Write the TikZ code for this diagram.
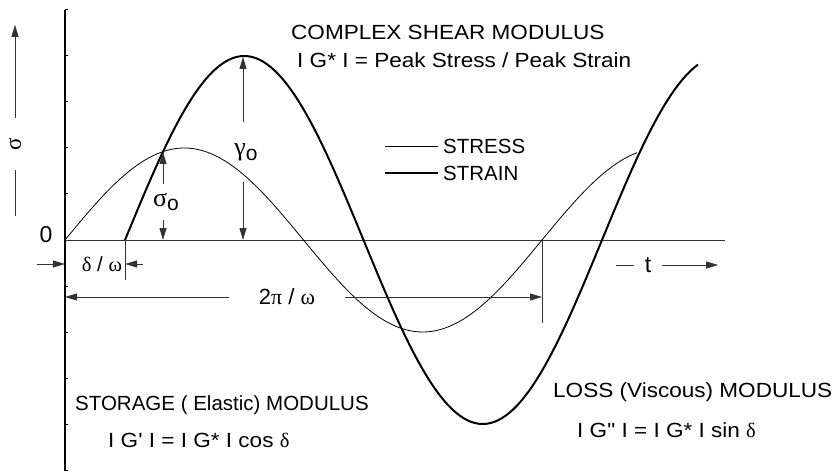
\documentclass[tikz,border=0pt]{standalone}
\usepackage{fontspec}
\setmainfont{Liberation Sans}[Ligatures=TeXOff]
\newfontfamily\widefont{Liberation Sans}[Ligatures=TeXOff,FakeStretch=1.1]
\newfontfamily\grk{Liberation Serif}
\usetikzlibrary{arrows.meta}
\newcommand{\gsub}[1]{{\fontsize{26}{28}\grk #1}\raisebox{-0.45ex}{\fontsize{21}{24}\selectfont o}}

\begin{document}
\begin{tikzpicture}[x=1pt,y=1pt,
>={Triangle[length=12pt,width=7pt]},
every node/.style={font=\fontsize{20.5}{24}\selectfont,inner sep=0pt},
big/.style={font=\fontsize{23}{26}\selectfont},
lbl/.style={anchor=west},
wide/.style={anchor=west,font=\fontsize{20.5}{24}\selectfont\widefont},
stressline/.style={line width=0.8pt},
strainline/.style={line width=2pt,line join=round},
dim/.style={line width=0.8pt,black!80}]
\useasboundingbox (-65,-231) rectangle (772,240);
% axes
\coordinate (o) at (0,0);
\draw[line width=2pt] (0,230) -- (0,-231);
\foreach \k in {-5,...,5} \draw[line width=1pt] (0,46*\k) -- (3,46*\k);
\draw[dim] (o) -- (660,0);
\node (zero) [big] at (-19,5) {0};
\node (sig) [big,rotate=90,minimum width=52pt] at (-50,96) {\grk σ};
\draw[dim,->] (sig.east) -- ++(0,93);
\draw[dim] (sig.west) -- ++(0,-46);
\node (t) [big,minimum width=28pt] at (583,-25) {t};
\draw[dim] (t.west) -- ++(-18,0);
\draw[dim,->] (t.east) -- ++(56,0);
% curves
\draw[stressline] plot[domain=0:572,samples=150] (\x,{92*sin(\x/477*360)});
\draw[strainline] plot[domain=60:633,samples=150] (\x,{184*sin((\x-60)/477*360)});
% amplitudes
\coordinate (cross) at (98,88);
\coordinate (peak) at (178,183);
\node (so) at (101,38) [minimum height=36pt] {\gsub{σ}};
\draw[dim,->] (so.north -| cross) -- (cross);
\draw[dim,->] (so.south -| cross) -- (cross |- o);
\node (go) at (181,88) [minimum height=59pt] {\gsub{γ}};
\draw[dim,->] (go.north -| peak) -- (peak);
\draw[dim,->] (go.south -| peak) -- (peak |- o);
% phase lag and period
\coordinate (d) at (60,0);
\coordinate (p) at (477,0);
\draw[dim] (d) -- ++(0,-40);
\draw[dim] (p) -- ++(0,-83);
\node (dw) at (37,-24) {{\grk δ} / {\grk ω}};
\draw[dim,->] ([xshift=-28pt]o |- dw) -- (o |- dw);
\draw[dim,->] ([xshift=18pt]d |- dw) -- (d |- dw);
\node (tp) [font=\fontsize{22}{24}\selectfont,minimum width=115pt] at (222,-57) {2{\grk π} / {\grk ω}};
\draw[dim,->] (tp.west) -- (o |- tp);
\draw[dim,->] (tp.east) -- (p |- tp);
% legend
\node (stress) [lbl] at (378,94) {STRESS};
\node (strain) [lbl] at (378,67) {STRAIN};
\draw[stressline] ([xshift=-5pt]stress.west) -- ++(-53,0);
\draw[strainline] ([xshift=-5pt]strain.west) -- ++(-53,0);
% moduli
\node (cplx) [wide] at (226,208) {COMPLEX SHEAR MODULUS};
\node (cplxeq) [wide] at (232,180) {I G* I = Peak Stress / Peak Strain};
\node (stor) [lbl] at (10,-165) {STORAGE ( Elastic) MODULUS};
\node (storeq) [wide] at (43,-200) {I G' I = I G* I cos {\grk δ}};
\node (loss) [wide] at (488,-152) {LOSS (Viscous) MODULUS};
\node (losseq) [wide] at (512,-190) {I G" I = I G* I sin {\grk δ}};
\end{tikzpicture}
\end{document}
